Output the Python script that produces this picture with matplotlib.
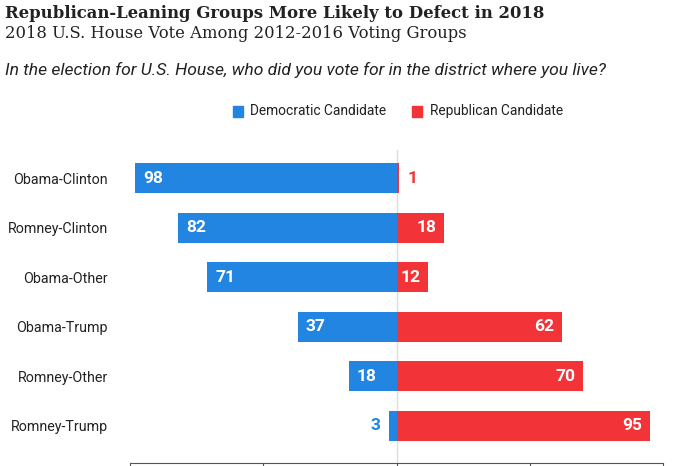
import matplotlib
matplotlib.use("Agg")
import matplotlib.pyplot as plt
import numpy as np

categories = ["Obama-Clinton", "Romney-Clinton", "Obama-Other", "Obama-Trump", "Romney-Other", "Romney-Trump"]
dem = [98, 82, 71, 37, 18, 3]
rep = [1, 18, 12, 62, 70, 95]
ticks = [-100, -50, 0, 50, 100]

BLUE = "#2285e1"
RED = "#f23337"

W, H = 700, 466
fig = plt.figure(figsize=(7, 4.66), dpi=100)

def px(x0, y0, x1, y1):
    return [x0 / W, 1 - y1 / H, (x1 - x0) / W, (y1 - y0) / H]

ax = fig.add_axes(px(130, 150, 663, 463))
y = np.arange(len(categories))
ax.barh(y, [-d for d in dem], height=0.6, color=BLUE, zorder=2)
ax.barh(y, rep, height=0.6, color=RED, zorder=2)
ax.set_xlim(-100, 100)
ax.set_ylim(5.75, -0.57)
ax.axvline(0, color="#dddddd", lw=1, zorder=1)

for s in ["top", "left", "right"]:
    ax.spines[s].set_visible(False)
ax.spines["bottom"].set_color("#555555")
ax.set_xticks(ticks)
ax.set_xticklabels([""] * len(ticks))
ax.tick_params(axis="x", length=8, color="#555555", direction="out")
ax.set_yticks(y)
ax.set_yticklabels(categories, fontfamily="Roboto", fontsize=10.3, color="#222222")
ax.tick_params(axis="y", length=0, pad=16)

lab_kw = dict(fontfamily="Roboto", fontweight="bold", fontsize=12.5, va="center")
for i, (d, r) in enumerate(zip(dem, rep)):
    if d >= 10:
        ax.text(-d + 3, i, str(d), color="white", ha="left", **lab_kw)
    else:
        ax.text(-d - 3, i, str(d), color=BLUE, ha="right", **lab_kw)
    if r >= 10:
        ax.text(r - 3, i, str(r), color="white", ha="right", **lab_kw)
    else:
        ax.text(r + 3, i, str(r), color=RED, ha="left", **lab_kw)

fig.text(5 / W, 1 - 13 / H, "Republican-Leaning Groups More Likely to Defect in 2018",
         fontfamily="DejaVu Serif", fontweight="bold", fontsize=11.9, va="center", color="#222222")
fig.text(5 / W, 1 - 34 / H, "2018 U.S. House Vote Among 2012-2016 Voting Groups",
         fontfamily="DejaVu Serif", fontsize=11.8, va="center", color="#222222")
fig.text(5 / W, 1 - 70 / H, "In the election for U.S. House, who did you vote for in the district where you live?",
         fontfamily="Roboto", fontstyle="italic", fontsize=12.6, va="center", color="#222222")

# legend
fig.patches.append(plt.Rectangle((233 / W, 1 - 117 / H), 10 / W, 11 / H, transform=fig.transFigure, color=BLUE))
fig.text(250 / W, 1 - 111 / H, "Democratic Candidate", fontfamily="Roboto", fontsize=9.9, va="center", color="#222222")
fig.patches.append(plt.Rectangle((412 / W, 1 - 117 / H), 10 / W, 11 / H, transform=fig.transFigure, color=RED))
fig.text(430 / W, 1 - 111 / H, "Republican Candidate", fontfamily="Roboto", fontsize=9.9, va="center", color="#222222")

fig.savefig("out.png", dpi=100)
